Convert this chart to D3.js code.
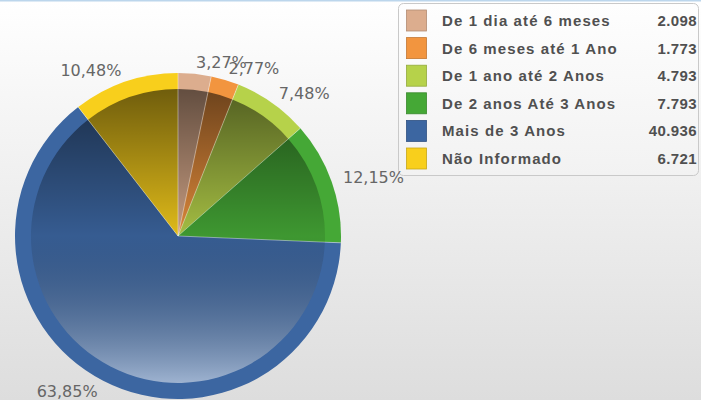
<!DOCTYPE html>
<html>
<head>
<meta charset="utf-8">
<script src="https://cdn.jsdelivr.net/npm/d3@7"></script>
<style>
  body { margin: 0; padding: 0; background: #fff; }
  .chart svg { display: block; }
</style>
</head>
<body>
<div class="chart"></div>
<script>
// data
const categories = ['De 1 dia até 6 meses', 'De 6 meses até 1 Ano', 'De 1 ano até 2 Anos',
                    'De 2 anos Até 3 Anos', 'Mais de 3 Anos', 'Não Informado'];
const values = [2098, 1773, 4793, 7793, 40936, 6721];
const valueLabels = ['2.098', '1.773', '4.793', '7.793', '40.936', '6.721'];
const colors = ['#dcad8e', '#f2953f', '#b6d24a', '#45a836', '#3c66a1', '#f8cf1c'];

const width = 701, height = 400;
const cx = 178, cy = 236;
const outerR = 163, innerR = 147, labelR = 175;

const svg = d3.select('.chart')
    .append('svg')
    .attr('width', width)
    .attr('height', height)
    .style('font-family', 'DejaVu Sans, Verdana, sans-serif');

const defs = svg.append('defs');

let bg = defs.append('linearGradient').attr('id', 'bg')
    .attr('x1', 0).attr('y1', 0).attr('x2', 0).attr('y2', 1);
bg.append('stop').attr('offset', '0%').attr('stop-color', '#ffffff');
bg.append('stop').attr('offset', '100%').attr('stop-color', '#dddddd');

// shading over the inner disc: dark at the top, light at the bottom
// (coords are in the translated space of the pie group)
let shade = defs.append('linearGradient').attr('id', 'shade')
    .attr('gradientUnits', 'userSpaceOnUse')
    .attr('x1', 0).attr('y1', -innerR).attr('x2', 0).attr('y2', innerR);
shade.append('stop').attr('offset', '0%').attr('stop-color', '#000').attr('stop-opacity', 0.55);
shade.append('stop').attr('offset', '50%').attr('stop-color', '#000').attr('stop-opacity', 0.1);
shade.append('stop').attr('offset', '100%').attr('stop-color', '#fff').attr('stop-opacity', 0.5);

let lg = defs.append('linearGradient').attr('id', 'legendBg')
    .attr('x1', 0).attr('y1', 0).attr('x2', 0).attr('y2', 1);
lg.append('stop').attr('offset', '0%').attr('stop-color', '#fefefe');
lg.append('stop').attr('offset', '100%').attr('stop-color', '#f2f2f2');

svg.append('rect')
    .attr('width', width).attr('height', height)
    .attr('fill', 'url(#bg)');

svg.append('rect')
    .attr('width', width).attr('height', 1.5)
    .attr('fill', '#bcd6ec');

// pie
const pie = d3.pie().sort(null).value(d => d)(values);
const total = d3.sum(values);

const outerArc = d3.arc().innerRadius(0).outerRadius(outerR);
const innerArc = d3.arc().innerRadius(0).outerRadius(innerR);

const g = svg.append('g').attr('transform', `translate(${cx},${cy})`);

g.selectAll('path.rim')
    .data(pie)
    .enter()
    .append('path')
    .attr('class', 'rim')
    .attr('d', outerArc)
    .attr('fill', (d, i) => colors[i]);

g.selectAll('path.inner')
    .data(pie)
    .enter()
    .append('path')
    .attr('class', 'inner')
    .attr('d', innerArc)
    .attr('fill', (d, i) => colors[i]);

g.selectAll('path.shade')
    .data(pie)
    .enter()
    .append('path')
    .attr('class', 'shade')
    .attr('d', innerArc)
    .attr('fill', 'url(#shade)');

// thin light lines between the slices
g.selectAll('line.sep')
    .data(pie)
    .enter()
    .append('line')
    .attr('class', 'sep')
    .attr('x1', 0).attr('y1', 0)
    .attr('x2', d => outerR * Math.sin(d.startAngle))
    .attr('y2', d => -outerR * Math.cos(d.startAngle))
    .attr('stroke', 'rgba(255,255,255,0.5)')
    .attr('stroke-width', 0.8);

// legend
const legend = svg.append('g');
legend.append('rect')
    .attr('x', 398.5).attr('y', 3.5)
    .attr('width', 300).attr('height', 172)
    .attr('rx', 5)
    .attr('fill', 'url(#legendBg)')
    .attr('stroke', '#c9c9c9');

const rowY = d3.scaleLinear().domain([0, categories.length - 1]).range([20.5, 158.5]);

let rows = legend.selectAll('g.row')
    .data(categories)
    .enter()
    .append('g')
    .attr('class', 'row')
    .attr('transform', (d, i) => `translate(0,${rowY(i)})`);

rows.append('rect')
    .attr('x', 406.5).attr('y', -10.5)
    .attr('width', 20).attr('height', 21)
    .attr('fill', (d, i) => colors[i])
    .attr('stroke', (d, i) => d3.color(colors[i]).darker(0.6))
    .attr('stroke-width', 0.8);

rows.append('text')
    .attr('x', 442)
    .attr('dy', '0.36em')
    .attr('font-family', 'Liberation Sans, Arial, sans-serif')
    .attr('font-weight', 'bold')
    .attr('font-size', 15)
    .attr('letter-spacing', 1.1)
    .attr('fill', '#505050')
    .text(d => d);

rows.append('text')
    .attr('x', 697)
    .attr('dy', '0.36em')
    .attr('text-anchor', 'end')
    .attr('font-family', 'Liberation Sans, Arial, sans-serif')
    .attr('font-weight', 'bold')
    .attr('font-size', 15)
    .attr('letter-spacing', 0.4)
    .attr('fill', '#505050')
    .text((d, i) => valueLabels[i]);

// percentage labels around the pie
const fmt = v => d3.format('.2f')(v).replace('.', ',') + '%';

svg.append('g')
    .selectAll('text')
    .data(pie)
    .enter()
    .append('text')
    .attr('font-size', 16)
    .attr('fill', '#666')
    .attr('dy', '0.36em')
    .text(d => fmt(d.value / total * 100))
    .each(function (d) {
        const a = (d.startAngle + d.endAngle) / 2;
        const right = Math.sin(a) >= 0;
        let x = cx + labelR * Math.sin(a);
        let y = cy - labelR * Math.cos(a);
        const w = this.getComputedTextLength();
        // slide along the circle when the label would leave the left edge
        if (!right && x - w < 30) {
            x = 30 + w;
            const dx = x - cx;
            const dy = Math.sqrt(Math.max(0, labelR * labelR - dx * dx));
            y = Math.cos(a) < 0 ? cy + dy : cy - dy;
        }
        d3.select(this)
            .attr('x', x)
            .attr('y', y)
            .attr('text-anchor', right ? 'start' : 'end');
    });
</script>
</body>
</html>
